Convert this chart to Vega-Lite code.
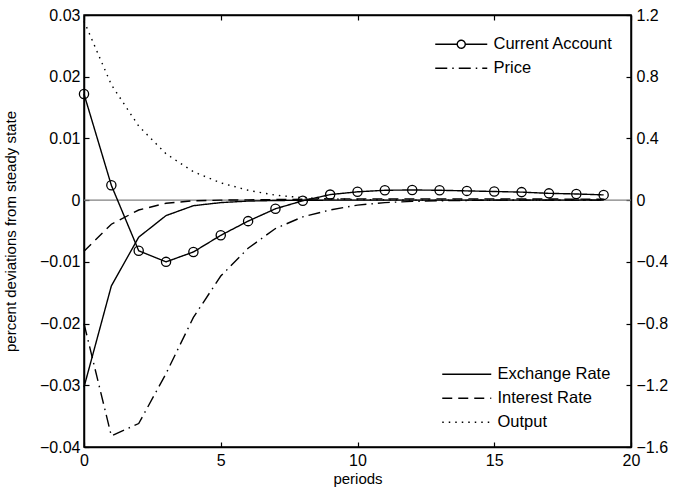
{
  "$schema": "https://vega.github.io/schema/vega-lite/v6.json",
  "width": 547,
  "height": 432,
  "autosize": {"type": "none"},
  "padding": {"left": 84, "top": 15, "right": 42, "bottom": 51},
  "config": {
    "font": "Liberation Sans",
    "view": {"stroke": "black", "strokeWidth": 1.5},
    "axis": {
      "grid": false,
      "domainColor": "black",
      "domainWidth": 1.5,
      "tickColor": "black",
      "tickWidth": 1.2,
      "tickSize": -5,
      "labelFlush": false,
      "labelColor": "black",
      "labelFontSize": 16,
      "titleColor": "black",
      "titleFontSize": 15,
      "titleFontWeight": "normal"
    }
  },
  "datasets": {
    "series": [
      {"s": "Current Account", "t": 0, "v": 0.0172}, {"s": "Current Account", "t": 1, "v": 0.0024}, {"s": "Current Account", "t": 2, "v": -0.0082}, {"s": "Current Account", "t": 3, "v": -0.0100}, {"s": "Current Account", "t": 4, "v": -0.0084}, {"s": "Current Account", "t": 5, "v": -0.0057}, {"s": "Current Account", "t": 6, "v": -0.0034}, {"s": "Current Account", "t": 7, "v": -0.0014}, {"s": "Current Account", "t": 8, "v": -0.0001}, {"s": "Current Account", "t": 9, "v": 0.0009}, {"s": "Current Account", "t": 10, "v": 0.00135}, {"s": "Current Account", "t": 11, "v": 0.0016}, {"s": "Current Account", "t": 12, "v": 0.00165}, {"s": "Current Account", "t": 13, "v": 0.0016}, {"s": "Current Account", "t": 14, "v": 0.0015}, {"s": "Current Account", "t": 15, "v": 0.0014}, {"s": "Current Account", "t": 16, "v": 0.0013}, {"s": "Current Account", "t": 17, "v": 0.0011}, {"s": "Current Account", "t": 18, "v": 0.0010}, {"s": "Current Account", "t": 19, "v": 0.00085},
      {"s": "Price", "t": 0, "v": -0.0200}, {"s": "Price", "t": 1, "v": -0.0382}, {"s": "Price", "t": 2, "v": -0.0362}, {"s": "Price", "t": 3, "v": -0.0281}, {"s": "Price", "t": 4, "v": -0.0190}, {"s": "Price", "t": 5, "v": -0.0123}, {"s": "Price", "t": 6, "v": -0.0078}, {"s": "Price", "t": 7, "v": -0.0046}, {"s": "Price", "t": 8, "v": -0.0027}, {"s": "Price", "t": 9, "v": -0.0016}, {"s": "Price", "t": 10, "v": -0.0008}, {"s": "Price", "t": 11, "v": -0.0004}, {"s": "Price", "t": 12, "v": -0.0002}, {"s": "Price", "t": 13, "v": -0.0001}, {"s": "Price", "t": 14, "v": -0.00005}, {"s": "Price", "t": 15, "v": 0}, {"s": "Price", "t": 16, "v": 0}, {"s": "Price", "t": 17, "v": 0}, {"s": "Price", "t": 18, "v": 0}, {"s": "Price", "t": 19, "v": 0},
      {"s": "Exchange Rate", "t": 0, "v": -0.0303}, {"s": "Exchange Rate", "t": 1, "v": -0.0139}, {"s": "Exchange Rate", "t": 2, "v": -0.0060}, {"s": "Exchange Rate", "t": 3, "v": -0.0025}, {"s": "Exchange Rate", "t": 4, "v": -0.0009}, {"s": "Exchange Rate", "t": 5, "v": -0.0004}, {"s": "Exchange Rate", "t": 6, "v": -0.00015}, {"s": "Exchange Rate", "t": 7, "v": -0.00006}, {"s": "Exchange Rate", "t": 8, "v": -0.00002}, {"s": "Exchange Rate", "t": 9, "v": 0}, {"s": "Exchange Rate", "t": 10, "v": 0}, {"s": "Exchange Rate", "t": 11, "v": 0}, {"s": "Exchange Rate", "t": 12, "v": 0}, {"s": "Exchange Rate", "t": 13, "v": 0}, {"s": "Exchange Rate", "t": 14, "v": 0}, {"s": "Exchange Rate", "t": 15, "v": 0}, {"s": "Exchange Rate", "t": 16, "v": 0}, {"s": "Exchange Rate", "t": 17, "v": 0}, {"s": "Exchange Rate", "t": 18, "v": 0}, {"s": "Exchange Rate", "t": 19, "v": 0},
      {"s": "Interest Rate", "t": 0, "v": -0.0083}, {"s": "Interest Rate", "t": 1, "v": -0.0039}, {"s": "Interest Rate", "t": 2, "v": -0.0016}, {"s": "Interest Rate", "t": 3, "v": -0.0005}, {"s": "Interest Rate", "t": 4, "v": -0.0001}, {"s": "Interest Rate", "t": 5, "v": 0}, {"s": "Interest Rate", "t": 6, "v": 0.00005}, {"s": "Interest Rate", "t": 7, "v": 0.0001}, {"s": "Interest Rate", "t": 8, "v": 0.00015}, {"s": "Interest Rate", "t": 9, "v": 0.0002}, {"s": "Interest Rate", "t": 10, "v": 0.0002}, {"s": "Interest Rate", "t": 11, "v": 0.0002}, {"s": "Interest Rate", "t": 12, "v": 0.0002}, {"s": "Interest Rate", "t": 13, "v": 0.0002}, {"s": "Interest Rate", "t": 14, "v": 0.0002}, {"s": "Interest Rate", "t": 15, "v": 0.0002}, {"s": "Interest Rate", "t": 16, "v": 0.0002}, {"s": "Interest Rate", "t": 17, "v": 0.00018}, {"s": "Interest Rate", "t": 18, "v": 0.00016}, {"s": "Interest Rate", "t": 19, "v": 0.00015},
      {"s": "Output", "t": 0, "v": 0.0290}, {"s": "Output", "t": 1, "v": 0.0187}, {"s": "Output", "t": 2, "v": 0.0120}, {"s": "Output", "t": 3, "v": 0.0075}, {"s": "Output", "t": 4, "v": 0.0046}, {"s": "Output", "t": 5, "v": 0.0028}, {"s": "Output", "t": 6, "v": 0.0016}, {"s": "Output", "t": 7, "v": 0.0008}, {"s": "Output", "t": 8, "v": 0.0004}, {"s": "Output", "t": 9, "v": 0.0002}, {"s": "Output", "t": 10, "v": 0.0001}, {"s": "Output", "t": 11, "v": 0.00005}, {"s": "Output", "t": 12, "v": 0}, {"s": "Output", "t": 13, "v": 0}, {"s": "Output", "t": 14, "v": 0}, {"s": "Output", "t": 15, "v": 0}, {"s": "Output", "t": 16, "v": 0}, {"s": "Output", "t": 17, "v": 0}, {"s": "Output", "t": 18, "v": 0}, {"s": "Output", "t": 19, "v": 0}
    ]
  },
  "layer": [
    {
      "data": {"values": [{"z": 0}]},
      "mark": {"type": "rule", "color": "#808080", "strokeWidth": 1.2},
      "encoding": {
        "y": {
          "field": "z",
          "type": "quantitative",
          "scale": {"domain": [-1.6, 1.2], "nice": false, "zero": false},
          "axis": {"orient": "right", "values": [-1.6, -1.2, -0.8, -0.4, 0, 0.4, 0.8, 1.2], "format": "~g", "title": null, "labelPadding": 10}
        }
      }
    },
    {
      "data": {"name": "series"},
      "layer": [
        {
          "transform": [{"filter": {"field": "s", "oneOf": ["Current Account", "Price"]}}],
          "mark": {"type": "line", "color": "black", "strokeWidth": 1.4},
          "encoding": {
            "x": {
              "field": "t",
              "type": "quantitative",
              "scale": {"domain": [0, 20], "nice": false},
              "axis": {"orient": "bottom", "values": [0, 5, 10, 15, 20], "title": "periods", "labelPadding": 10, "titlePadding": 3}
            },
            "y": {
              "field": "v",
              "type": "quantitative",
              "scale": {"domain": [-0.04, 0.03], "nice": false, "zero": false},
              "axis": {"orient": "left", "values": [-0.04, -0.03, -0.02, -0.01, 0, 0.01, 0.02, 0.03], "format": "~g", "title": "percent deviations from steady state", "labelPadding": 9, "titlePadding": 21}
            },
            "strokeDash": {
              "field": "s",
              "type": "nominal",
              "scale": {"domain": ["Current Account", "Price"], "range": [[1, 0], [12, 5, 1.5, 5]]},
              "legend": {
                "title": null,
                "orient": "none",
                "legendX": 369,
                "legendY": 21,
                "padding": 0,
                "symbolType": "M-5.2,0L5.2,0",
                "symbolSize": 100,
                "symbolStrokeWidth": 1.4,
                "symbolStrokeColor": "black",
                "labelFontSize": 16.5,
                "labelColor": "black",
                "labelOffset": 24,
                "rowPadding": 7,
                "encode": {
                  "symbols": {
                    "update": {
                      "shape": {"signal": "datum.value === 'Current Account' ? 'M-5.2,0L-0.8,0M0.8,0L5.2,0M0.8,0A0.8,0.8,0,1,1,-0.8,0A0.8,0.8,0,1,1,0.8,0' : 'M-5.2,0L5.2,0'"},
                      "fill": {"value": "transparent"}
                    }
                  }
                }
              }
            }
          }
        },
        {
          "transform": [{"filter": {"field": "s", "equal": "Current Account"}}],
          "mark": {"type": "point", "shape": "circle", "size": 85, "filled": false, "stroke": "black", "strokeWidth": 1.3, "opacity": 1},
          "encoding": {
            "x": {
              "field": "t",
              "type": "quantitative",
              "scale": {"domain": [0, 20], "nice": false},
              "axis": {"orient": "top", "values": [0, 5, 10, 15, 20], "labels": false, "title": null}
            },
            "y": {
              "field": "v",
              "type": "quantitative",
              "scale": {"domain": [-0.04, 0.03], "nice": false, "zero": false},
              "axis": {"orient": "left", "values": [-0.04, -0.03, -0.02, -0.01, 0, 0.01, 0.02, 0.03], "format": "~g", "title": "percent deviations from steady state", "labelPadding": 9, "titlePadding": 21}
            }
          }
        },
        {
          "transform": [{"filter": {"field": "s", "oneOf": ["Exchange Rate", "Interest Rate", "Output"]}}],
          "mark": {"type": "line", "color": "black", "strokeWidth": 1.4},
          "encoding": {
            "x": {
              "field": "t",
              "type": "quantitative",
              "scale": {"domain": [0, 20], "nice": false},
              "axis": null
            },
            "y": {
              "field": "v",
              "type": "quantitative",
              "scale": {"domain": [-0.04, 0.03], "nice": false, "zero": false},
              "axis": {"orient": "left", "values": [-0.04, -0.03, -0.02, -0.01, 0, 0.01, 0.02, 0.03], "format": "~g", "title": "percent deviations from steady state", "labelPadding": 9, "titlePadding": 21}
            },
            "strokeDash": {
              "field": "s",
              "type": "nominal",
              "scale": {"domain": ["Exchange Rate", "Interest Rate", "Output"], "range": [[1, 0], [10, 6], [1.5, 5]]},
              "legend": {
                "title": null,
                "orient": "none",
                "legendX": 374.5,
                "legendY": 351,
                "padding": 0,
                "symbolType": "M-4.9,0L4.9,0",
                "symbolSize": 100,
                "symbolStrokeWidth": 1.4,
                "symbolStrokeColor": "black",
                "labelFontSize": 16.5,
                "labelColor": "black",
                "labelOffset": 22.5,
                "rowPadding": 7
              }
            }
          }
        }
      ],
      "resolve": {"scale": {"strokeDash": "independent"}, "legend": {"strokeDash": "independent"}, "axis": {"x": "independent"}}
    }
  ],
  "resolve": {"scale": {"y": "independent"}}
}
